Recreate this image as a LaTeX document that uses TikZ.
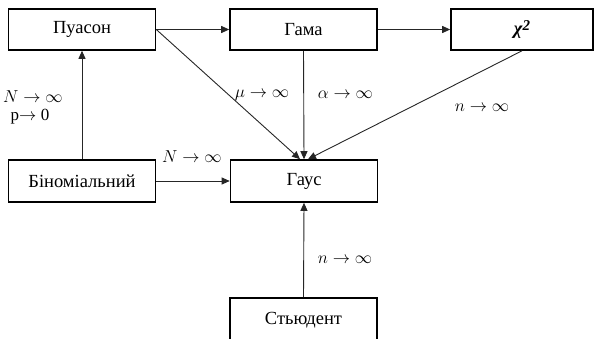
\documentclass[tikz,border=0pt]{standalone}
\usepackage{fontspec}
\setmainfont{Liberation Serif}
\usetikzlibrary{arrows.meta,calc}
\begin{document}
\begin{tikzpicture}[x=1pt,y=-1pt,
  box/.style={draw=black,line width=1.6pt,rectangle,minimum width=147pt,minimum height=41pt,inner sep=0pt,font=\fontsize{18.5}{22}\selectfont},
  conn/.style={draw=black!85,line width=0.9pt,-{Triangle[length=8pt,width=7pt]}},
  lab/.style={inner sep=0pt,font=\fontsize{16.5}{19}\selectfont}]
\useasboundingbox (0,0) rectangle (594,338);
\clip (0,0) rectangle (594,338);
\node[box] (P) at (82,29.5) {Пуасон};
\node[box] (G) at (303.5,29.5) {Гама};
\node[box,minimum width=142pt] (X) at (522,29.5) {\bfseries\itshape χ\raisebox{4pt}{\fontsize{15}{15}\selectfont 2}};
\node[box,minimum height=42pt] (B) at (82,181) {Біноміальний};
\node[box,minimum height=42pt] (N) at (304,181) {Гаус};
\node[box,minimum height=44pt] (S) at (303.5,320) {Стьюдент};
\coordinate (Nl) at ($(N.north)+(-4,0)$);
\coordinate (Nr) at ($(N.north)+(4,0)$);
\draw[conn] (P.east) -- (G.west);
\draw[conn] (G.east) -- (X.west);
\draw[conn] (B.north) -- (P.south);
\draw[conn] (B.east) -- (N.west);
\draw[conn] (P.east) -- (Nl);
\draw[conn] (G.south) -- (N.north);
\draw[conn] (X.south) -- (Nr);
\draw[conn] (S.north) -- (N.south);
\node[lab] (l1) at (33,97) {$N\to\infty$};
\node[lab,font=\fontsize{17}{20}\selectfont] (l2) at (30,117) {p$\to$ 0};
\node[lab] (l3) at (262,95) {$\mu\to\infty$};
\node[lab] (l4) at (345.5,95) {$\alpha\to\infty$};
\node[lab] (l5) at (482,108) {$n\to\infty$};
\node[lab] (l6) at (192,157) {$N\to\infty$};
\node[lab] (l7) at (345,260) {$n\to\infty$};
\end{tikzpicture}
\end{document}
